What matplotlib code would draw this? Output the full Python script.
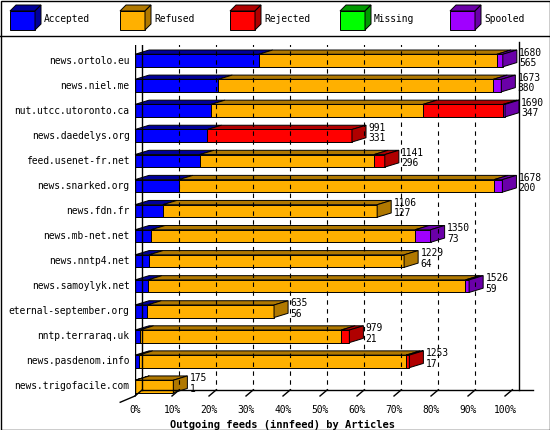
import numpy as np
import matplotlib.pyplot as plt
from matplotlib.patches import Polygon, Rectangle

plt.rcParams['font.family'] = ['DejaVu Sans Mono']

hosts = ["news.ortolo.eu", "news.niel.me", "nut.utcc.utoronto.ca", "news.daedelys.org",
         "feed.usenet-fr.net", "news.snarked.org", "news.fdn.fr", "news.mb-net.net",
         "news.nntp4.net", "news.samoylyk.net", "eternal-september.org", "nntp.terraraq.uk",
         "news.pasdenom.info", "news.trigofacile.com"]
offered = [1680, 1673, 1690, 991, 1141, 1678, 1106, 1350, 1229, 1526, 635, 979, 1253, 175]
accepted = [565, 380, 347, 331, 296, 200, 127, 73, 64, 59, 56, 21, 17, 1]
refused = [1088, 1256, 968, 0, 796, 1440, 979, 1206, 1165, 1450, 579, 920, 1221, 174]
rejected = [0, 0, 366, 660, 49, 0, 0, 0, 0, 0, 0, 38, 15, 0]
missing = [0] * 14
spooled = [27, 37, 9, 0, 0, 38, 0, 71, 0, 17, 0, 0, 0, 0]

series = ["Accepted", "Refused", "Rejected", "Missing", "Spooled"]
front = ["#0000ff", "#ffb000", "#ff0000", "#00ff00", "#a000ff"]
side = ["#000099", "#b07800", "#b00000", "#009900", "#6a00a8"]

fs = 6.9
fig = plt.figure(figsize=(5.5, 4.3), dpi=100)
# outer frame + legend
bg = fig.add_axes([0, 0, 1, 1])
bg.set_xlim(0, 550); bg.set_ylim(430, 0); bg.axis('off')
bg.add_patch(Rectangle((0.5, 0.5), 549, 429, fill=False, lw=1, ec='black'))
bg.plot([0, 550], [36, 36], color='black', lw=1)
for i, (name, fc, sc) in enumerate(zip(series, front, side)):
    x0 = 10 + i * 110
    bg.add_patch(Polygon([(x0, 11), (x0 + 25, 11), (x0 + 25, 30), (x0, 30)], fc=fc, ec='black', lw=0.7))
    bg.add_patch(Polygon([(x0, 11), (x0 + 6, 5), (x0 + 31, 5), (x0 + 25, 11)], fc=sc, ec='black', lw=0.7))
    bg.add_patch(Polygon([(x0 + 25, 11), (x0 + 31, 5), (x0 + 31, 24), (x0 + 25, 30)], fc=sc, ec='black', lw=0.7))
    bg.text(x0 + 34, 19, name, fontsize=fs, va='center')

ax = fig.add_axes([135 / 550, 1 - 396 / 430, 370 / 550, 351 / 430])
ax.set_xlim(0, 100)
ax.set_ylim(len(hosts) - 0.5, -0.5)
ax.axis('off')

scale = 100 / max(offered)
dx, dy = 3.8, -0.17   # bar depth
gx, gy = 2.0, -0.25   # back wall offset
h = 0.5
n = len(hosts)

# back wall grid and floor
for p in range(10, 101, 10):
    ax.plot([p + gx, p + gx], [-0.6, n - 0.5 + gy], color='black', lw=0.8, ls=(0, (4, 4)))
ax.plot([gx, gx], [-0.6, n - 0.5 + gy], color='black', lw=1)
ax.plot([100 + dx, 100 + dx], [-0.6, n - 0.5 + gy], color='black', lw=1, clip_on=False)
ax.plot([0, 0], [-0.6, n - 0.5], color='black', lw=1)
ax.plot([gx, 100 + 2 * dx], [n - 0.5 + gy, n - 0.5 + gy], color='black', lw=1, clip_on=False)
ax.plot([-4, 0], [n - 0.5 + 0.25, n - 0.5], color='black', lw=1, clip_on=False)
for p in range(0, 101, 10):
    ax.plot([p, p + gx], [n - 0.5, n - 0.5 + gy], color='black', lw=1, clip_on=False)
    ax.text(p, n - 0.5 + 0.35, f"{p}%", ha='center', va='top', fontsize=fs)
ax.text(50 - 10, n - 0.5 + 0.95, "Outgoing feeds (innfeed) by Articles", ha='center',
        va='top', fontsize=7.5, fontweight='bold')

for i in range(n):
    vals = [accepted[i], refused[i], rejected[i], missing[i], spooled[i]]
    y0, y1 = i - h / 2 + 0.12, i + h / 2 + 0.12
    left = 0.0
    for v, fc, sc in zip(vals, front, side):
        if v <= 0:
            continue
        w = v * scale
        ax.add_patch(Polygon([(left, y0), (left + dx, y0 + dy), (left + w + dx, y0 + dy), (left + w, y0)],
                             fc=sc, ec='black', lw=0.7, clip_on=False))
        ax.add_patch(Rectangle((left, y0), w, h, fc=fc, ec='black', lw=0.7, clip_on=False))
        left += w
        last = sc
    ax.add_patch(Polygon([(left, y0), (left + dx, y0 + dy), (left + dx, y1 + dy), (left, y1)],
                         fc=last, ec='black', lw=0.7, clip_on=False))
    ax.text(left + dx + 0.6, i - 0.2, str(offered[i]), fontsize=fs, va='center')
    ax.text(left + dx + 0.6, i + 0.22, str(accepted[i]), fontsize=fs, va='center')
    ax.text(-1.5, i + 0.12, hosts[i], fontsize=fs, ha='right', va='center')

fig.savefig("out.png", dpi=100)
